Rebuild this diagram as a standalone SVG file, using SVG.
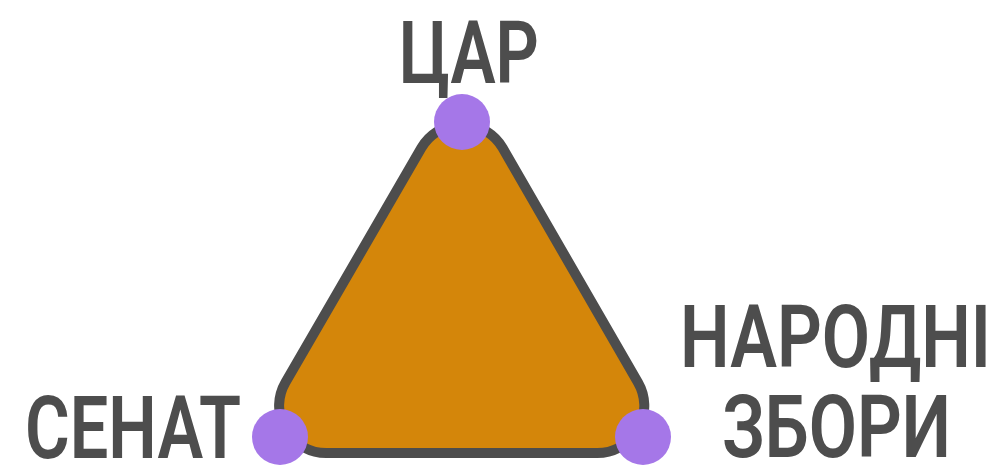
<svg xmlns="http://www.w3.org/2000/svg" width="1000" height="467" viewBox="0 0 1000 467">
<style>
.lbl{font-family:Roboto,"Liberation Sans",sans-serif;font-weight:600;font-size:88px;fill:#4d4d4d}
.dot{fill:#a577e8}
</style>
<rect width="1000" height="467" fill="#ffffff"/>
<g id="connectors">
<path id="triangle" d="M326.1 453 L597.3 453 A47 47 0 0 0 638 382.5 L502.7 148.1 A47 47 0 0 0 421.3 148.1 L285.4 382.5 A47 47 0 0 0 326.1 453 Z" fill="#d4860a" stroke="#4d4d4d" stroke-width="10" stroke-linejoin="round"/>
</g>
<g id="node-tsar">
<circle class="dot" cx="462" cy="122" r="28"/>
<text class="lbl" x="399" y="83" textLength="140" lengthAdjust="spacingAndGlyphs">ЦАР</text>
</g>
<g id="node-senat">
<circle class="dot" cx="280" cy="437" r="28"/>
<text class="lbl" x="25" y="458" textLength="216" lengthAdjust="spacingAndGlyphs">СЕНАТ</text>
</g>
<g id="node-narodni">
<circle class="dot" cx="643" cy="437" r="28"/>
<text class="lbl" x="680" y="367" textLength="311" lengthAdjust="spacingAndGlyphs">НАРОДНІ</text>
<text class="lbl" x="722" y="457" textLength="229" lengthAdjust="spacingAndGlyphs">ЗБОРИ</text>
</g>
</svg>
